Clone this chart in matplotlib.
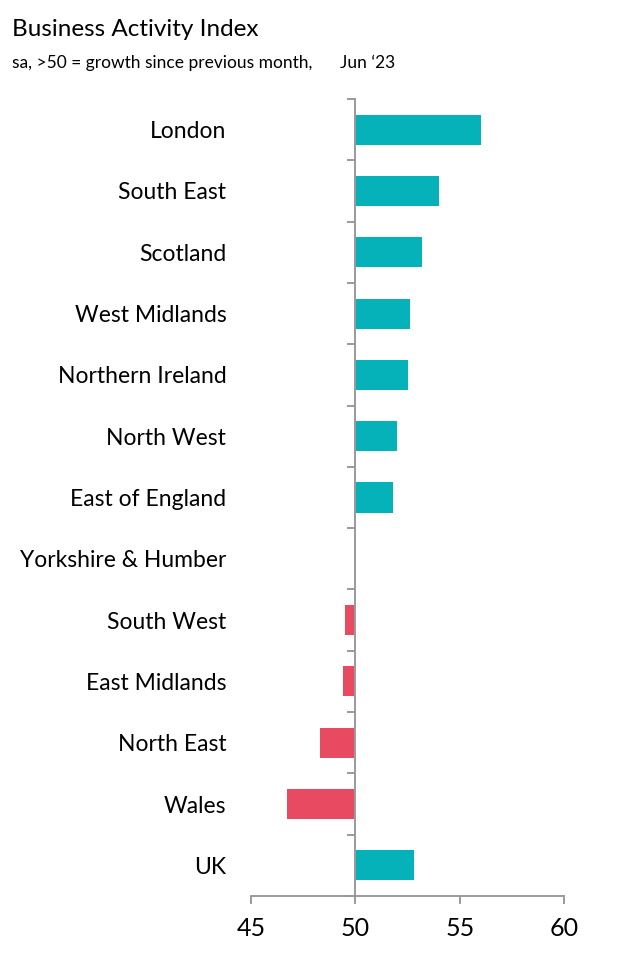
import matplotlib
matplotlib.use("Agg")
import matplotlib.pyplot as plt
import numpy as np

plt.rcParams["font.family"] = ["Lato", "DejaVu Sans"]

regions = ["London", "South East", "Scotland", "West Midlands", "Northern Ireland",
           "North West", "East of England", "Yorkshire & Humber", "South West",
           "East Midlands", "North East", "Wales", "UK"]
index_values = [56.0, 54.0, 53.2, 52.6, 52.5, 52.0, 51.8, 50.0, 49.5, 49.4, 48.3, 46.7, 52.8]
x_ticks = [45, 50, 55, 60]

baseline = 50
teal = "#06b2b9"
red = "#e84a62"
spine_grey = "#9a9a9a"

fig = plt.figure(figsize=(6.17, 9.6), dpi=100)
ax = fig.add_axes([251 / 617, 1 - 896 / 960, (564.3 - 251) / 617, (896 - 99) / 960])

y = np.arange(len(regions))
diffs = [v - baseline for v in index_values]
colors = [teal if d >= 0 else red for d in diffs]
ax.barh(y, diffs, left=baseline, height=0.49, color=colors, edgecolor="none")

# moving the spine resets tick styling, so do it first
for s in ["top", "right"]:
    ax.spines[s].set_visible(False)
ax.spines["left"].set_position(("data", baseline))
for s in ["left", "bottom"]:
    ax.spines[s].set_color(spine_grey)
    ax.spines[s].set_linewidth(1.4)

ax.set_xlim(45, 60)
ax.set_ylim(len(regions) - 0.5, -0.5)
ax.set_xticks(x_ticks)
ax.set_xticklabels([str(t) for t in x_ticks])

ax.set_yticks(y)
ax.set_yticklabels(regions)
ax.set_yticks(np.arange(len(regions) + 1) - 0.5, minor=True)

ax.tick_params(axis="y", which="major", length=0, pad=93, labelsize=16.5)
ax.tick_params(axis="y", which="minor", length=6, width=1.4, color=spine_grey, direction="out")
ax.tick_params(axis="x", length=6, width=1.4, color=spine_grey, pad=9, labelsize=18)

fig.text(12 / 617, 1 - 36 / 960, "Business Activity Index", fontsize=17.5, va="baseline", ha="left")
fig.text(12 / 617, 1 - 68 / 960, "sa, >50 = growth since previous month,", fontsize=12.5,
         va="baseline", ha="left")
fig.text(340 / 617, 1 - 68 / 960, "Jun \u201823", fontsize=12.5, va="baseline", ha="left")

fig.savefig("out.png", dpi=100)
